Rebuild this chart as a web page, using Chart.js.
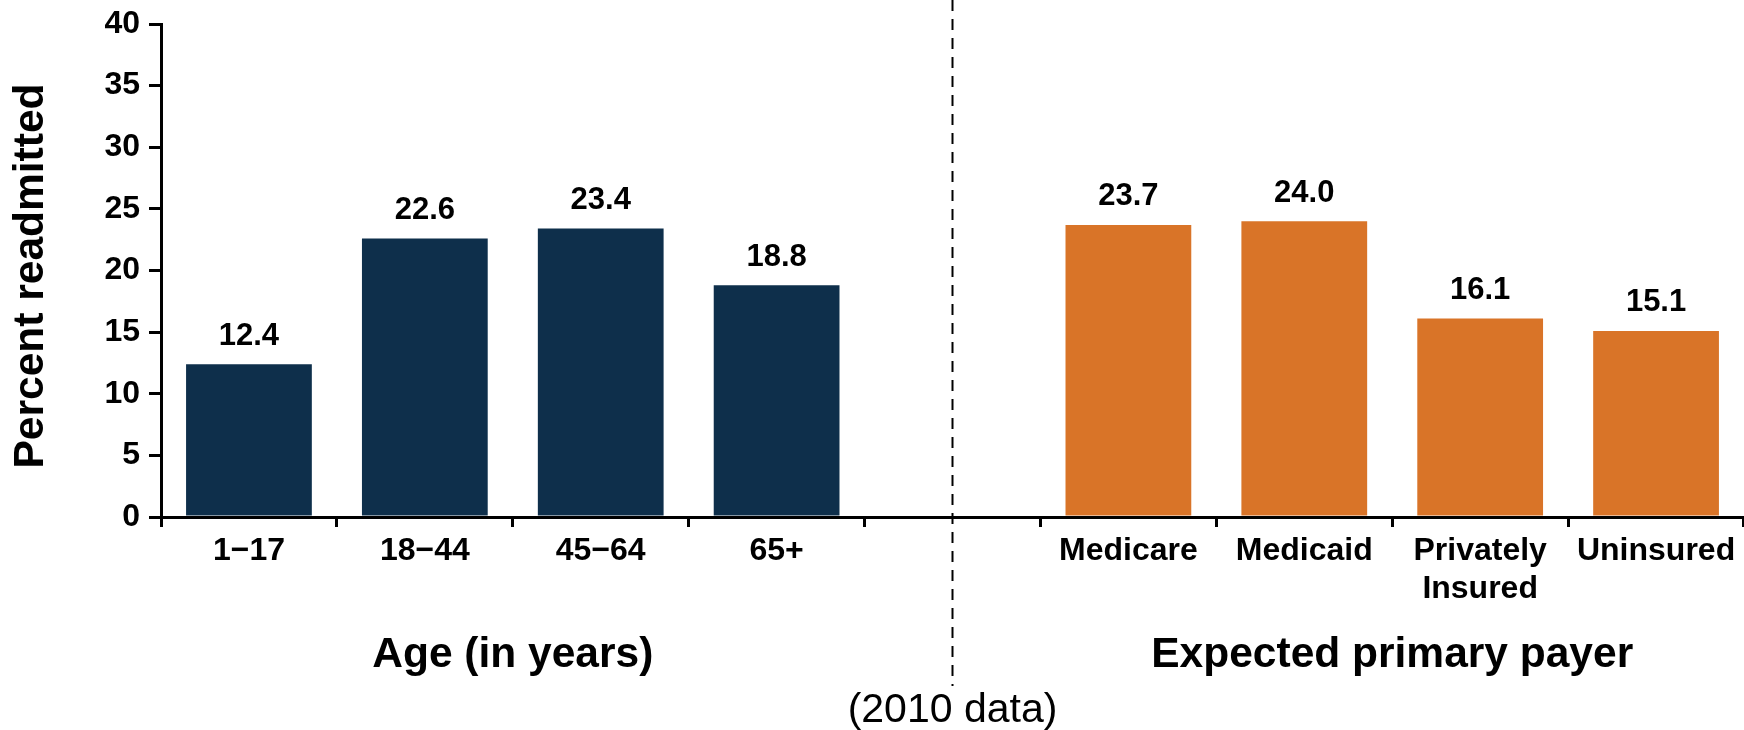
<!DOCTYPE html>
<html>
<head>
<meta charset="utf-8">
<title>Readmission rates</title>
<script src="https://cdn.jsdelivr.net/npm/chart.js@4.4.0/dist/chart.umd.min.js"></script>
<style>
  html, body { margin: 0; padding: 0; background: #fff; }
  #wrap { width: 1744px; height: 730px; }
</style>
</head>
<body>
<div id="wrap"><canvas id="myChart" width="1744" height="730"></canvas></div>
<script>
// readmission rates, 2010
var ageGroups = ['1\u221217', '18\u221244', '45\u221264', '65+'];
var ageRates = [12.4, 22.6, 23.4, 18.8];
var payerGroups = ['Medicare', 'Medicaid', ['Privately', 'Insured'], 'Uninsured'];
var payerRates = [23.7, 24.0, 16.1, 15.1];
var yMax = 40;
var yStep = 5;

var NAVY = '#0e2f4b';
var ORANGE = '#d97428';
var FONT = '"Liberation Sans", Arial, sans-serif';

// one blank slot between the two groups holds the divider
var labels = ageGroups.concat([''], payerGroups);
var values = ageRates.concat([null], payerRates);
var colors = ageRates.map(function () { return NAVY; })
  .concat([NAVY], payerRates.map(function () { return ORANGE; }));

var extras = {
  id: 'extras',
  afterDraw: function (chart) {
    var ctx = chart.ctx;
    var x = chart.scales.x;
    var meta = chart.getDatasetMeta(0);
    ctx.save();
    ctx.fillStyle = '#000';
    ctx.textAlign = 'center';
    ctx.textBaseline = 'middle';

    // value labels over the bars
    ctx.font = 'bold 31px ' + FONT;
    meta.data.forEach(function (bar, i) {
      if (values[i] == null) return;
      ctx.fillText(values[i].toFixed(1), bar.x, bar.y - 28);
    });

    // dashed divider through the blank slot
    var mid = x.getPixelForValue(ageGroups.length);
    ctx.strokeStyle = '#000';
    ctx.lineWidth = 2;
    ctx.setLineDash([11, 8]);
    ctx.beginPath();
    ctx.moveTo(mid, 0);
    ctx.lineTo(mid, 686);
    ctx.stroke();
    ctx.setLineDash([]);

    // group titles
    ctx.font = 'bold 42.5px ' + FONT;
    var ageMid = (x.getPixelForValue(0) + x.getPixelForValue(ageGroups.length - 1)) / 2;
    var first = ageGroups.length + 1;
    var payMid = (x.getPixelForValue(first) + x.getPixelForValue(first + payerGroups.length - 1)) / 2;
    ctx.fillText('Age (in years)', ageMid, 655);
    ctx.fillText('Expected primary payer', payMid, 655);

    ctx.font = '41px ' + FONT;
    ctx.fillText('(2010 data)', mid, 711);

    // y axis title
    ctx.font = 'bold 42.5px ' + FONT;
    ctx.translate(31, 276);
    ctx.rotate(-Math.PI / 2);
    ctx.fillText('Percent readmitted', 0, 0);
    ctx.restore();
  }
};

var ctx = document.getElementById('myChart').getContext('2d');
var chart = new Chart(ctx, {
  type: 'bar',
  data: {
    labels: labels,
    datasets: [{
      data: values,
      backgroundColor: colors,
      borderWidth: 0,
      barPercentage: 0.715,
      categoryPercentage: 1
    }]
  },
  options: {
    responsive: false,
    animation: false,
    devicePixelRatio: 1,
    layout: { padding: { top: 24, right: 0, bottom: 0, left: 0 } },
    plugins: {
      legend: { display: false },
      tooltip: { enabled: false }
    },
    scales: {
      x: {
        afterFit: function (scale) { scale.height = 213; },
        ticks: {
          color: '#000',
          font: { family: FONT, size: 32, weight: 'bold' },
          padding: 5,
          maxRotation: 0,
          autoSkip: false
        },
        grid: {
          offset: true,
          drawOnChartArea: false,
          drawTicks: true,
          tickLength: 10,
          color: '#000',
          lineWidth: 3
        },
        border: { display: true, color: '#000', width: 3 }
      },
      y: {
        min: 0,
        max: yMax,
        afterFit: function (scale) {
          scale.width = 161;
          scale.paddingTop = 0;
        },
        ticks: {
          stepSize: yStep,
          color: '#000',
          font: { family: FONT, size: 32, weight: 'bold' },
          padding: 9
        },
        grid: {
          drawOnChartArea: false,
          drawTicks: true,
          tickLength: 12,
          color: '#000',
          lineWidth: 3
        },
        border: { display: true, color: '#000', width: 3 }
      }
    }
  },
  plugins: [extras]
});
</script>
</body>
</html>
